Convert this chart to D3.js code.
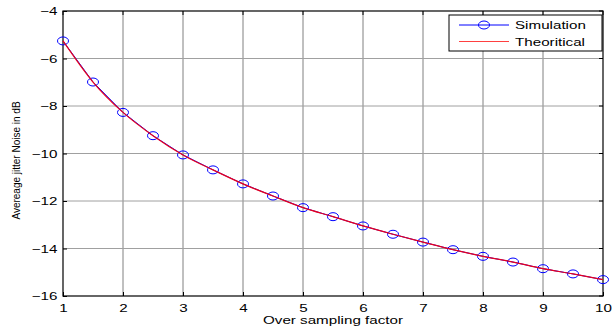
<!DOCTYPE html>
<html>
<head>
<meta charset="utf-8">
<script src="https://cdn.jsdelivr.net/npm/d3@7"></script>
<style>
  body { margin: 0; background: #fff; }
  text { font-family: "Liberation Sans", Arial, sans-serif; }
</style>
</head>
<body>
<div id="chart"></div>
<script>
// data
var factors = [1, 1.5, 2, 2.5, 3, 3.5, 4, 4.5, 5, 5.5, 6, 6.5, 7, 7.5, 8, 8.5, 9, 9.5, 10];
var simulation = [-5.26, -6.99, -8.27, -9.25, -10.06, -10.69, -11.28, -11.79, -12.28, -12.66,
                  -13.05, -13.40, -13.73, -14.05, -14.33, -14.57, -14.85, -15.07, -15.31];
var theoretical = [-5.26, -6.99, -8.27, -9.25, -10.06, -10.69, -11.28, -11.79, -12.28, -12.66,
                   -13.05, -13.40, -13.73, -14.05, -14.33, -14.57, -14.85, -15.07, -15.31];
var xTicks = [1, 2, 3, 4, 5, 6, 7, 8, 9, 10];
var yTicks = [-16, -14, -12, -10, -8, -6, -4];
var seriesNames = ["Simulation", "Theoritical"];

var margin = {top: 11, right: 9, bottom: 33, left: 63},
    width = 612 - margin.left - margin.right,
    height = 329 - margin.top - margin.bottom;

// the original picture is stretched sideways, so text is too
var stretch = 'scale(1.38,1)';

var svg = d3.select('#chart').append('svg')
    .attr('width', 612)
    .attr('height', 329)
  .append('g')
    .attr('transform', 'translate(' + margin.left + ',' + margin.top + ')');

var x = d3.scaleLinear().domain([1, 10]).range([0, width]);
var y = d3.scaleLinear().domain([-16, -4]).range([height, 0]);

// grid
svg.append('g').selectAll('line.gx').data(xTicks.slice(1, -1)).enter().append('line')
    .attr('x1', d => x(d)).attr('x2', d => x(d))
    .attr('y1', 0).attr('y2', height)
    .attr('stroke', '#808080').attr('stroke-width', 1);
svg.append('g').selectAll('line.gy').data(yTicks.slice(1, -1)).enter().append('line')
    .attr('y1', d => y(d)).attr('y2', d => y(d))
    .attr('x1', 0).attr('x2', width)
    .attr('stroke', '#a0a0a0').attr('stroke-width', 1);

// axes
var xAxis = svg.append('g').attr('transform', 'translate(0,' + height + ')')
    .call(d3.axisBottom(x).tickValues(xTicks).tickSize(-4).tickPadding(8).tickFormat(d3.format('d')));
var yAxis = svg.append('g')
    .call(d3.axisLeft(y).tickValues(yTicks).tickSize(-4).tickPadding(6).tickFormat(d3.format('d')));
[xAxis, yAxis].forEach(function(a) {
  a.select('.domain').remove();
  a.selectAll('text').attr('font-size', 11).attr('fill', '#000')
    .attr('transform', stretch)
    .style('font-family', '"Liberation Sans", Arial, sans-serif');
  a.selectAll('line').attr('stroke', '#000');
});
yAxis.selectAll('text').attr('x', -4);
// right side ticks, top ticks
svg.append('g').selectAll('line').data(yTicks).enter().append('line')
    .attr('x1', width).attr('x2', width - 4).attr('y1', d => y(d)).attr('y2', d => y(d)).attr('stroke', '#000');
svg.append('g').selectAll('line').data(xTicks).enter().append('line')
    .attr('y1', 0).attr('y2', 4).attr('x1', d => x(d)).attr('x2', d => x(d)).attr('stroke', '#000');

svg.append('rect').attr('width', width).attr('height', height)
    .attr('fill', 'none').attr('stroke', '#000').attr('stroke-width', 1.2);

// simulation line + markers
var line = d3.line().x((d, i) => x(factors[i])).y(d => y(d));
svg.append('path').datum(simulation)
    .attr('fill', 'none').attr('stroke', 'blue').attr('stroke-width', 1)
    .attr('d', line);
svg.append('g').selectAll('ellipse').data(simulation).enter().append('ellipse')
    .attr('cx', (d, i) => x(factors[i])).attr('cy', d => y(d))
    .attr('rx', 5.5).attr('ry', 4)
    .attr('fill', 'none').attr('stroke', 'blue').attr('stroke-width', 1);

// theoretical curve
svg.append('path').datum(theoretical)
    .attr('fill', 'none').attr('stroke', '#e8001c').attr('stroke-width', 1.2)
    .attr('d', d3.line().curve(d3.curveMonotoneX).x((d, i) => x(factors[i])).y(d => y(d)));

// axis labels
svg.append('g').attr('transform', 'translate(' + (width / 2) + ',' + (height + 28) + ') ' + stretch)
  .append('text').attr('text-anchor', 'middle').attr('font-size', 11).text('Over sampling factor');
svg.append('text')
    .attr('transform', 'translate(' + (-43) + ',' + (height / 2 + 7) + ') rotate(-90)')
    .attr('text-anchor', 'middle').attr('font-size', 10).text('Avereage jitter Noise in dB');

// legend
var lg = svg.append('g').attr('transform', 'translate(' + (449 - margin.left) + ',' + (15 - margin.top) + ')');
lg.append('rect').attr('width', 153).attr('height', 36)
    .attr('fill', '#fff').attr('stroke', '#000').attr('stroke-width', 1);
var colors = ['blue', '#ff4040'];
seriesNames.forEach(function(name, i) {
  var yy = 10 + i * 16.5;
  lg.append('line').attr('x1', 10).attr('x2', 60).attr('y1', yy).attr('y2', yy)
    .attr('stroke', colors[i]).attr('stroke-width', 1);
  if (i === 0) {
    lg.append('ellipse').attr('cx', 35).attr('cy', yy).attr('rx', 5.5).attr('ry', 4)
      .attr('fill', 'none').attr('stroke', 'blue');
  }
  lg.append('g').attr('transform', 'translate(66,' + (yy + 4) + ') ' + stretch)
    .append('text').attr('font-size', 11).text(name);
});
</script>
</body>
</html>
